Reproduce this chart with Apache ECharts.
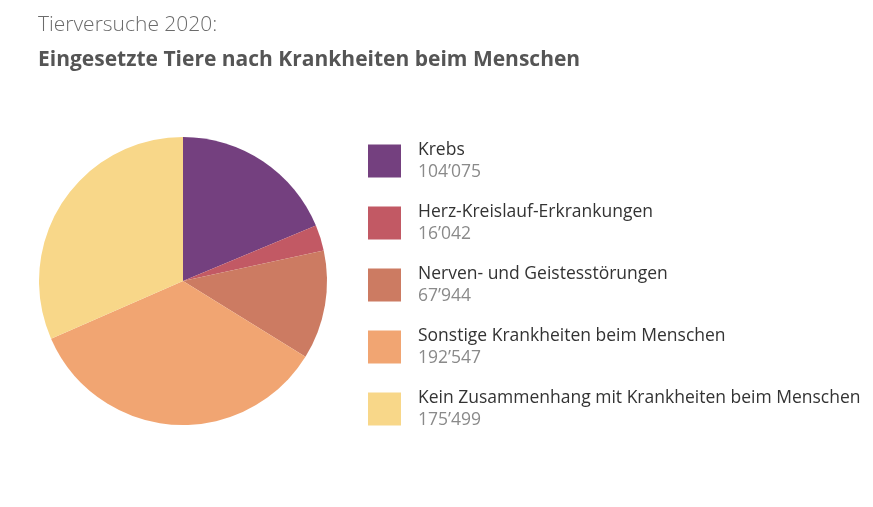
<!DOCTYPE html>
<html><head><meta charset="utf-8">
<script src="https://cdn.jsdelivr.net/npm/echarts@6/dist/echarts.min.js"></script>
<style>html,body{margin:0;padding:0;background:#fff}#c{width:873px;height:507px}</style>
</head><body><div id="c"></div>
<script>
const categories = ['Krebs','Herz-Kreislauf-Erkrankungen','Nerven- und Geistesstörungen','Sonstige Krankheiten beim Menschen','Kein Zusammenhang mit Krankheiten beim Menschen'];
const values = [104075, 16042, 67944, 192547, 175499];
const colors = ['#74407f','#c25964','#cc7b62','#f1a572','#f8d789'];
const fmt = v => String(v).replace(/\B(?=(\d{3})+(?!\d))/g, '\u2019');
const chart = echarts.init(document.getElementById('c'));
chart.setOption({
  animation:false,
  title:[
    {text:'Tierversuche 2020:', left:33, top:10, textStyle:{fontFamily:'Open Sans', fontWeight:300, fontSize:21, color:'#6b6b6b'}},
    {text:'Eingesetzte Tiere nach Krankheiten beim Menschen', left:33, top:45, textStyle:{fontFamily:'Open Sans', fontWeight:'bold', fontSize:21, color:'#555'}}
  ],
  legend:{
    orient:'vertical', left:363, top:136, itemWidth:33, itemHeight:33, itemGap:22, icon:'rect',
    formatter: name => '{n|'+name+'}\n{v|'+fmt(values[categories.indexOf(name)])+'}',
    textStyle:{padding:[0,0,0,12], rich:{
      n:{fontFamily:'Open Sans', fontSize:17.5, color:'#333', lineHeight:22},
      v:{fontFamily:'Open Sans', fontSize:17.5, color:'#8a8a8a', lineHeight:22}
    }},
    data:categories
  },
  series:[{
    type:'pie', center:[183,281], radius:144, startAngle:90, clockwise:true,
    label:{show:false}, labelLine:{show:false}, silent:true,
    itemStyle:{borderWidth:0},
    data:categories.map((n,i)=>({name:n, value:values[i], itemStyle:{color:colors[i]}}))
  }]
});
</script></body></html>
